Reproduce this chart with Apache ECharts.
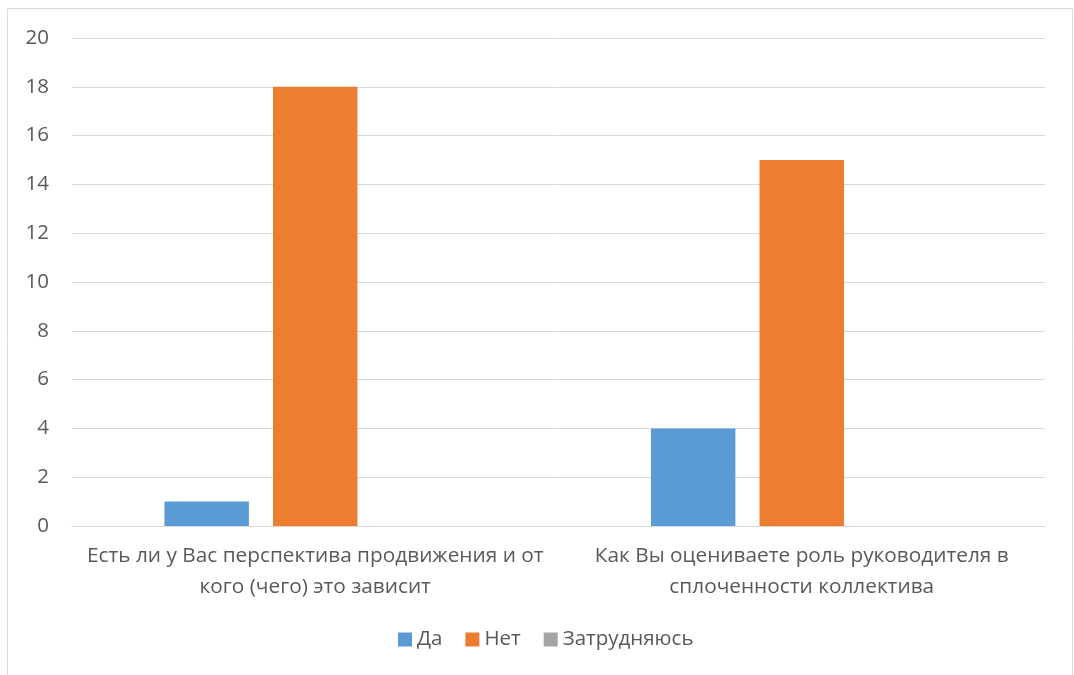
<!DOCTYPE html>
<html>
<head>
<meta charset="utf-8">
<style>
  html, body { margin: 0; padding: 0; background: #fff; }
  #chart { width: 1074px; height: 675px; }
</style>
<script src="https://cdn.jsdelivr.net/npm/echarts@6/dist/echarts.min.js"></script>
</head>
<body>
<div id="chart"></div>
<script>
// Survey questions (x-axis categories)
const categories = [
  'Есть ли у Вас перспектива продвижения и от\nкого (чего) это зависит',
  'Как Вы оцениваете роль руководителя в\nсплоченности коллектива'
];
// Answer counts per question
const yesValues = [1, 4];
const noValues = [18, 15];
const unsureValues = [0, 0];
const seriesNames = ['Да', 'Нет', 'Затрудняюсь'];
const yTicks = { min: 0, max: 20, interval: 2 };

const textColor = '#595959';
const lineColor = '#D9D9D9';
const font = '"Open Sans", "Noto Sans", sans-serif';

const chart = echarts.init(document.getElementById('chart'));
chart.setOption({
  animation: false,
  textStyle: { fontFamily: font, color: textColor },
  graphic: [{
    type: 'rect',
    shape: { x: 7.5, y: 8.5, width: 1065, height: 680 },
    style: { fill: 'none', stroke: lineColor, lineWidth: 1 },
    silent: true
  }],
  grid: { left: 72, right: 29, top: 38, bottom: 149 },
  legend: {
    bottom: 20,
    left: 393,
    icon: 'rect',
    itemWidth: 14,
    itemHeight: 14,
    itemGap: 23,
    textStyle: { color: textColor, fontSize: 20.5, fontFamily: font },
    data: seriesNames
  },
  xAxis: {
    type: 'category',
    data: categories,
    axisLine: { lineStyle: { color: lineColor, width: 1 } },
    axisTick: { show: false },
    axisLabel: {
      color: textColor,
      fontSize: 20.8,
      lineHeight: 31,
      margin: 15,
      interval: 0,
      fontFamily: font
    }
  },
  yAxis: {
    type: 'value',
    min: yTicks.min,
    max: yTicks.max,
    interval: yTicks.interval,
    axisLine: { show: false },
    axisTick: { show: false },
    splitLine: { lineStyle: { color: lineColor, width: 1 } },
    axisLabel: { color: textColor, fontSize: 20.5, margin: 23, fontFamily: font }
  },
  series: [
    { name: seriesNames[0], type: 'bar', data: yesValues, itemStyle: { color: '#5B9BD5' },
      barGap: '28.6%', barCategoryGap: '38%' },
    { name: seriesNames[1], type: 'bar', data: noValues, itemStyle: { color: '#ED7D31' } },
    { name: seriesNames[2], type: 'bar', data: unsureValues, itemStyle: { color: '#A5A5A5' } }
  ]
});
</script>
</body>
</html>
